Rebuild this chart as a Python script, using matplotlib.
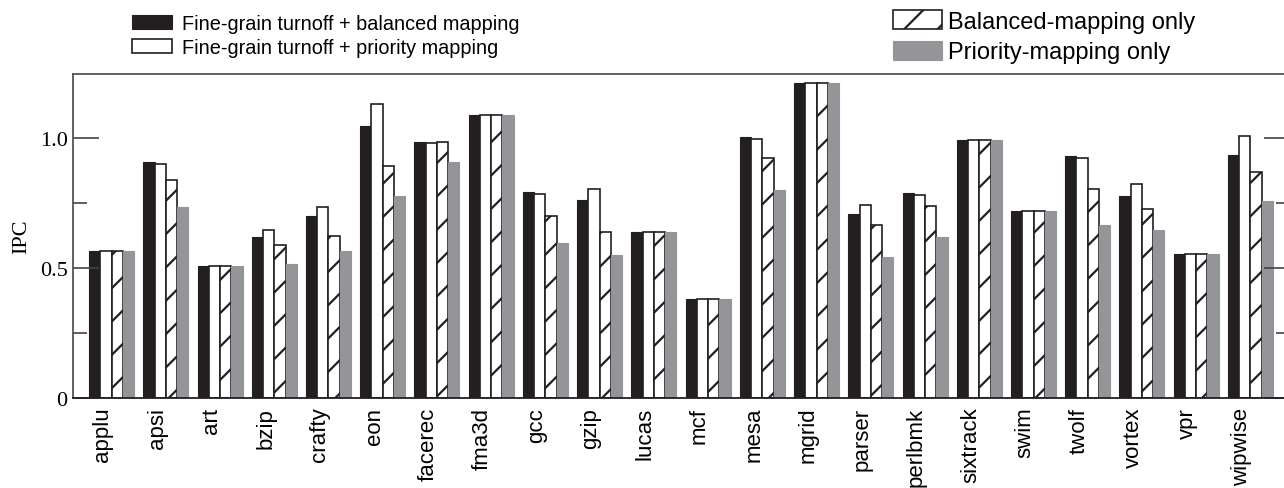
import matplotlib.pyplot as plt
import numpy as np
from matplotlib.ticker import MultipleLocator

# Datos
benchmarks = ["applu", "apsi", "art", "bzip", "crafty", "eon", "facerec", "fma3d",
              "gcc", "gzip", "lucas", "mcf", "mesa", "mgrid", "parser", "perlbmk",
              "sixtrack", "swim", "twolf", "vortex", "vpr", "wipwise"]

fg_balanced = [0.568, 0.907, 0.510, 0.622, 0.700, 1.049, 0.985, 1.089,
               0.795, 0.762, 0.638, 0.382, 1.004, 1.212, 0.708, 0.788,
               0.995, 0.722, 0.931, 0.778, 0.555, 0.937]
fg_priority = [0.568, 0.901, 0.510, 0.647, 0.735, 1.132, 0.982, 1.089,
               0.787, 0.806, 0.638, 0.382, 0.996, 1.212, 0.745, 0.783,
               0.995, 0.722, 0.924, 0.824, 0.555, 1.010]
balanced_only = [0.568, 0.841, 0.510, 0.591, 0.626, 0.892, 0.985, 1.089,
                 0.700, 0.638, 0.638, 0.382, 0.925, 1.212, 0.668, 0.738,
                 0.995, 0.722, 0.805, 0.729, 0.555, 0.869]
priority_only = [0.568, 0.737, 0.510, 0.515, 0.565, 0.777, 0.910, 1.089,
                 0.596, 0.550, 0.638, 0.382, 0.800, 1.212, 0.545, 0.619,
                 0.995, 0.722, 0.667, 0.647, 0.555, 0.758]

labels = ["Fine-grain turnoff + balanced mapping",
          "Fine-grain turnoff + priority mapping",
          "Balanced-mapping only",
          "Priority-mapping only"]

plt.rcParams["hatch.linewidth"] = 1.6

fig = plt.figure(figsize=(12.84, 4.89), dpi=100)
ax = fig.add_axes([0.0569, 0.1834, 0.9478, 0.6632])

x = np.arange(len(benchmarks))
w = 0.2075
negro = "#231f20"
gris = "#939598"

b1 = ax.bar(x - 1.5 * w, fg_balanced, w, color=negro, edgecolor=negro, linewidth=0.8)
b2 = ax.bar(x - 0.5 * w, fg_priority, w, color="white", edgecolor=negro, linewidth=1.2)
b3 = ax.bar(x + 0.5 * w, balanced_only, w, color="white", edgecolor=negro,
            linewidth=1.2, hatch="/")
b4 = ax.bar(x + 1.5 * w, priority_only, w, color=gris, edgecolor=gris, linewidth=0.8)

ax.set_xlim(-0.71, 21.73)
ax.set_ylim(0, 1.247)

ax.set_xticks(x - 0.16)
ax.set_xticklabels(benchmarks, rotation=90, fontsize=16, family="Liberation Sans")
ax.tick_params(axis="x", length=0, pad=6)

ax.set_yticks([0, 0.5, 1.0])
ax.set_yticklabels(["0", "0.5", "1.0"], fontsize=16, family="Liberation Serif")
ax.yaxis.set_minor_locator(MultipleLocator(0.25))
ax.tick_params(axis="y", which="major", direction="in", length=19, width=1.2,
               color="#444444", right=True, pad=4)
ax.tick_params(axis="y", which="minor", direction="in", length=10, width=1.2,
               color="#444444", right=True)
ax.set_ylabel("IPC", fontsize=16, family="Liberation Serif", labelpad=6)

for lado in ["left", "top", "right"]:
    ax.spines[lado].set_color("#555555")
    ax.spines[lado].set_linewidth(1.3)
ax.spines["bottom"].set_color(negro)
ax.spines["bottom"].set_linewidth(1.3)

# Leyendas
fig.legend([b1, b2], labels[:2], loc="upper left", bbox_to_anchor=(0.1028, 0.97),
           frameon=False, prop={"family": "Liberation Sans", "size": 14.3},
           handlelength=2.0, handleheight=0.7, handletextpad=0.5,
           labelspacing=0.28, borderpad=0, borderaxespad=0)
fig.legend([b3, b4], labels[2:], loc="upper left", bbox_to_anchor=(0.6955, 0.977),
           frameon=False, prop={"family": "Liberation Sans", "size": 17},
           handlelength=2.08, handleheight=0.85, handletextpad=0.25,
           labelspacing=0.34, borderpad=0, borderaxespad=0)

fig.savefig("out.png", dpi=100)
